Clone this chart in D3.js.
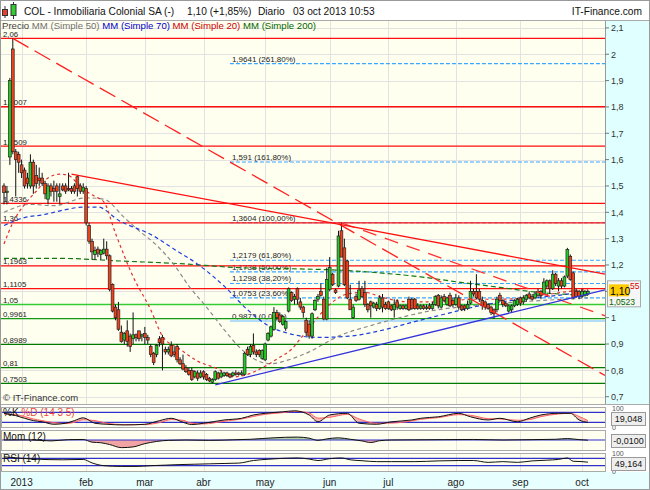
<!DOCTYPE html>
<html><head><meta charset="utf-8">
<script src="https://cdnjs.cloudflare.com/ajax/libs/d3/7.8.5/d3.min.js"></script>
<style>body{margin:0;background:#fff}svg{display:block;font-family:"Liberation Sans",Arial,sans-serif}</style>
</head><body><svg id="c" width="650" height="490"></svg>
<script>
// ---------------- DATA ----------------
const opens = [1.50,1.475,1.61,2.02,1.63,1.62,1.58,1.56,1.53,1.50,
1.59,1.54,1.53,1.53,1.51,1.45,1.50,1.49,1.50,1.46,
1.50,1.50,1.49,1.49,1.50,1.535,1.50,1.48,1.49,1.35,
1.29,1.24,1.26,1.24,1.245,1.26,1.235,1.126,1.04,1.03,
0.945,0.915,0.95,0.93,0.92,0.935,0.95,0.93,0.94,0.925,
0.89,0.865,0.86,0.92,0.925,0.88,0.87,0.895,0.87,0.89,
0.84,0.825,0.81,0.80,0.80,0.775,0.79,0.775,0.795,0.785,
0.77,0.755,0.765,0.79,0.775,0.78,0.79,0.785,0.78,0.79,
0.79,0.785,0.785,0.88,0.86,0.895,0.87,0.875,0.845,0.84,
0.915,0.93,0.955,1.02,1.01,0.975,0.96,1.025,1.095,1.07,
1.11,1.06,1.04,0.99,0.975,0.93,1.03,1.07,1.10,1.07,
0.995,1.107,1.165,1.105,1.12,1.33,1.265,1.215,1.07,1.00,
1.08,1.07,1.11,1.095,1.05,1.06,1.04,1.05,1.035,1.075,
1.05,1.06,1.045,1.03,1.06,1.035,1.045,1.035,1.07,1.07,
1.07,1.045,1.035,1.045,1.035,1.045,1.035,1.05,1.085,1.04,
1.08,1.05,1.085,1.065,1.05,1.075,1.045,1.045,1.035,1.055,
1.10,1.10,1.10,1.065,1.06,1.05,1.04,1.03,1.03,1.085,
1.065,1.055,1.025,1.03,1.045,1.05,1.075,1.06,1.07,1.09,
1.08,1.075,1.085,1.10,1.09,1.12,1.14,1.11,1.165,1.12,
1.14,1.12,1.158,1.233,1.17,1.10,1.10,1.08,1.085,1.09];
const highs = [1.51,1.50,1.91,2.06,1.64,1.63,1.60,1.57,1.55,1.62,
1.60,1.58,1.57,1.55,1.52,1.51,1.51,1.52,1.51,1.51,
1.51,1.51,1.55,1.50,1.51,1.54,1.51,1.51,1.50,1.36,
1.30,1.27,1.27,1.26,1.30,1.29,1.24,1.13,1.05,1.06,
0.97,0.945,0.99,0.94,1.02,0.94,0.95,0.94,0.965,0.935,
0.90,0.87,0.90,0.93,0.935,0.89,0.89,0.91,0.89,0.90,
0.85,0.86,0.82,0.81,0.81,0.80,0.80,0.80,0.80,0.79,
0.775,0.77,0.80,0.795,0.80,0.795,0.795,0.79,0.795,0.80,
0.795,0.80,0.87,0.89,0.90,0.94,0.88,0.88,0.88,0.905,
0.945,0.97,1.04,1.03,1.02,1.01,0.99,1.115,1.10,1.09,
1.115,1.075,1.045,1.00,0.99,1.02,1.07,1.09,1.13,1.08,
1.19,1.23,1.17,1.11,1.33,1.36,1.30,1.22,1.125,1.05,
1.09,1.14,1.12,1.14,1.055,1.065,1.06,1.06,1.085,1.09,
1.06,1.065,1.05,1.07,1.07,1.05,1.05,1.05,1.08,1.075,
1.075,1.055,1.05,1.05,1.05,1.055,1.06,1.085,1.09,1.085,
1.09,1.08,1.095,1.075,1.09,1.085,1.05,1.05,1.065,1.14,
1.11,1.165,1.11,1.08,1.065,1.055,1.045,1.035,1.08,1.095,
1.07,1.06,1.05,1.05,1.07,1.075,1.08,1.085,1.09,1.10,
1.09,1.10,1.11,1.105,1.15,1.145,1.145,1.18,1.17,1.15,
1.15,1.16,1.265,1.24,1.175,1.11,1.105,1.11,1.105,1.105];
const lows = [1.43,1.43,1.58,1.62,1.46,1.55,1.53,1.49,1.49,1.49,
1.47,1.49,1.50,1.50,1.45,1.43,1.46,1.44,1.44,1.43,
1.48,1.47,1.48,1.47,1.47,1.46,1.47,1.47,1.35,1.28,
1.22,1.22,1.23,1.22,1.24,1.22,1.10,1.02,0.99,0.95,
0.905,0.90,0.89,0.87,0.90,0.91,0.91,0.91,0.90,0.90,
0.85,0.82,0.85,0.89,0.80,0.86,0.86,0.85,0.85,0.83,
0.82,0.80,0.79,0.78,0.76,0.77,0.76,0.77,0.765,0.76,
0.755,0.75,0.76,0.765,0.77,0.775,0.775,0.77,0.775,0.78,
0.78,0.78,0.78,0.855,0.85,0.86,0.85,0.85,0.84,0.835,
0.91,0.925,0.95,0.99,0.98,0.97,0.95,1.02,1.06,1.05,
1.05,1.03,1.00,0.93,0.92,0.92,1.025,1.06,1.08,0.99,
0.99,1.10,1.12,1.09,1.115,1.23,1.12,1.07,1.03,0.995,
1.06,1.065,1.075,1.04,1.02,1.00,1.035,1.025,1.03,1.02,
1.03,1.03,1.025,1.00,1.03,1.03,1.03,1.03,1.025,1.03,
1.03,1.03,1.03,1.03,1.03,1.03,1.03,1.045,1.035,1.035,
1.06,1.045,1.04,1.04,1.045,1.03,1.025,1.025,1.03,1.05,
1.08,1.07,1.06,1.03,1.03,1.03,1.01,0.995,1.02,1.06,
1.04,1.04,1.02,1.02,1.04,1.045,1.045,1.05,1.06,1.07,
1.065,1.07,1.08,1.07,1.085,1.11,1.09,1.105,1.12,1.10,
1.11,1.115,1.15,1.14,1.07,1.075,1.07,1.075,1.08,1.085];
const closes = [1.475,1.48,1.90,1.63,1.60,1.59,1.55,1.50,1.51,1.59,
1.50,1.51,1.52,1.51,1.47,1.50,1.48,1.48,1.48,1.47,
1.485,1.48,1.485,1.48,1.48,1.49,1.48,1.495,1.36,1.29,
1.25,1.255,1.245,1.255,1.26,1.235,1.107,1.025,1.00,0.956,
0.91,0.94,0.91,0.89,0.935,0.925,0.92,0.935,0.925,0.915,
0.86,0.83,0.895,0.905,0.90,0.87,0.88,0.855,0.86,0.84,
0.825,0.805,0.795,0.785,0.765,0.795,0.77,0.79,0.775,0.765,
0.76,0.765,0.795,0.77,0.79,0.79,0.78,0.775,0.79,0.785,
0.785,0.79,0.865,0.86,0.89,0.87,0.86,0.86,0.875,0.90,
0.94,0.965,1.02,1.00,0.985,1.005,0.985,1.11,1.065,1.08,
1.07,1.04,1.02,0.945,0.93,1.015,1.065,1.08,1.085,0.995,
1.145,1.19,1.125,1.095,1.31,1.23,1.125,1.075,1.03,1.04,
1.065,1.105,1.08,1.05,1.03,1.045,1.055,1.035,1.075,1.04,
1.035,1.035,1.03,1.05,1.04,1.045,1.035,1.045,1.03,1.035,
1.035,1.035,1.045,1.035,1.04,1.035,1.05,1.08,1.045,1.075,
1.065,1.075,1.045,1.05,1.075,1.04,1.03,1.035,1.05,1.10,
1.09,1.075,1.07,1.045,1.04,1.035,1.02,1.015,1.07,1.065,
1.05,1.045,1.045,1.045,1.065,1.07,1.055,1.075,1.085,1.075,
1.07,1.09,1.10,1.085,1.135,1.14,1.11,1.165,1.13,1.14,
1.12,1.155,1.259,1.145,1.076,1.08,1.08,1.10,1.10,1.10];

// moving averages (bar index, value)
const ma20Idx = [0,3,7,11,15,19,22,25,28,31,34,38,44,50,54,60,66,73,78,83,88,94,98,101,105,111,117,123,129,138,149,159,169,179,190,199];
const ma20Val = [1.28,1.36,1.43,1.48,1.53,1.545,1.54,1.51,1.48,1.46,1.44,1.32,1.156,1.03,0.93,0.88,0.835,0.805,0.775,0.785,0.81,0.85,0.88,0.92,0.975,1.05,1.09,1.096,1.077,1.06,1.06,1.07,1.07,1.077,1.096,1.107];
const ma50Idx = [0,9,17,28,34,41,46,52,58,63,69,75,80,85,91,97,104,114,125,135,145,155,169,183,199];
const ma50Val = [1.40,1.43,1.425,1.455,1.45,1.38,1.33,1.275,1.20,1.12,1.04,0.955,0.89,0.845,0.825,0.84,0.87,0.93,0.97,1.00,1.025,1.04,1.055,1.065,1.075];
const ma70Idx = [0,7,13,21,27,32,39,51,58,67,75,83,90,97,107,118,126,140,150,162,176,189,199];
const ma70Val = [1.35,1.38,1.39,1.41,1.42,1.42,1.37,1.31,1.26,1.195,1.12,1.03,0.97,0.94,0.925,0.93,0.945,0.985,1.013,1.045,1.07,1.085,1.10];
const ma200Idx = [0,19,40,60,80,101,115,128,142,155,169,183,199];
const ma200Val = [1.225,1.225,1.215,1.205,1.19,1.185,1.18,1.17,1.155,1.135,1.115,1.095,1.085];

// horizontal levels and fibonacci
const levelValues = [2.06,1.8007,1.6509,1.4336,1.36,1.1963,1.1105,1.05,0.9961,0.8989,0.81,0.7503];
const levelLabels = ["2,06","1,8007","1,6509","1,4336","1,36","1,1963","1,1105","1,05","0,9961","0,8989","0,81","0,7503"];
const fibValues = [0.9873,1.0753,1.1298,1.1738,1.2179,1.3604,1.591,1.9641];
const fibLabels = ["0,9873 (0,00%)","1,0753 (23,60%)","1,1298 (38,20%)","1,1738 (50,00%)","1,2179 (61,80%)","1,3604 (100,00%)","1,591 (161,80%)","1,9641 (261,80%)"];
const fibStartIdx = 77;

// trend lines: [startIdx, startVal, throughIdx, throughVal]
const trendRedDash1 = [3,2.06,115,1.35];
const trendRedSolid = [23,1.545,115,1.353];
const trendBlue = [72,0.745,199,1.09];
const trendRedDash2 = [115,1.36,199,1.03];

// axis tick labels
const yTicks = [0.7,0.8,0.9,1,1.1,1.2,1.3,1.4,1.5,1.6,1.7,1.8,1.9,2,2.1];
const yTickLabels = ["0,7","0,8","0,9","1","1,1","1,2","1,3","1,4","1,5","1,6","1,7","1,8","1,9","2","2,1"];
const monthLabels = ["2013","feb","mar","abr","may","jun","jul","ago","sep","oct"];

// indicators (bar index, value)
const stochIdx = [0,4,7,10,13,17,21,24,27,31,35,41,48,53,57,61,64,68,75,81,85,89,95,99,104,107,111,117,121,127,132,139,142,148,155,159,165,169,175,179,183,189,193,196,199];
const stochK = [74,60,44,30,23,8,14,30,47,14,8,4,8,30,44,20,6,14,34,44,64,74,83,89,64,23,64,74,14,8,23,34,44,53,74,53,34,44,23,44,64,74,74,34,19];
const stochD = [70,66,55,40,30,18,12,20,35,30,14,6,6,18,36,32,14,10,26,40,55,68,78,86,76,45,50,68,40,14,15,28,38,48,66,62,42,40,32,36,54,70,74,55,30];
const momIdx = [0,8,16,22,27,30,33,36,40,44,48,52,56,62,70,78,84,88,92,96,100,104,107,110,114,118,122,125,128,132,140,150,160,170,180,188,192,196,199];
const momVal = [0,0.01,-0.05,0.02,0.03,-0.12,-0.15,-0.25,-0.42,-0.38,-0.2,-0.08,-0.02,0,-0.02,0.01,0.04,0.08,0.12,0.15,0.16,0.10,-0.02,0.06,0.12,0.04,-0.05,-0.14,-0.04,0,0.01,0.02,0.03,0.0,0.02,0.04,0.08,0.02,-0.01];
const rsiIdx = [0,10,20,27,30,34,40,45,50,55,60,65,70,75,80,85,90,95,100,104,107,111,115,118,122,127,132,140,148,155,160,165,170,175,180,185,189,192,194,197,199];
const rsiVal = [78,66,62,64,45,30,26,26,30,33,36,38,40,42,44,58,65,70,72,66,58,68,72,62,57,52,52,52,56,58,58,48,52,48,56,60,64,72,54,52,49];

// ---------------- DRAW ----------------
const svg = d3.select('#c');
const P = {l:1, r:605, t:21, b:404};
const n = closes.length;

const holidays = new Set(['2012-12-25','2012-12-26','2013-01-01','2013-03-29','2013-04-01','2013-05-01']);
const days = [];
for (let d = new Date(Date.UTC(2012,11,20)); days.length < n; d.setUTCDate(d.getUTCDate()+1)) {
  const dow = d.getUTCDay(), s = d.toISOString().slice(0,10);
  if (dow===0 || dow===6 || holidays.has(s)) continue;
  days.push(s);
}
const monthIdx = monthLabels.map((m,k) => days.findIndex(s => s.startsWith('2013-' + String(k+1).padStart(2,'0'))));

const x = d3.scalePoint().domain(d3.range(n)).range([4, 587.9]);
const y = d3.scaleLinear().domain([0.7, 2.1]).range([396.7, 27.9]);
const yLast = y(closes[n-1]);

// backgrounds
svg.append('rect').attr('x',0).attr('y',0).attr('width',650).attr('height',490).attr('fill','#fff');
svg.append('rect').attr('x',P.l).attr('y',P.t).attr('width',P.r-P.l).attr('height',P.b-P.t).attr('fill','#fffff0');
svg.append('rect').attr('x',P.r).attr('y',P.t).attr('width',649-P.r).attr('height',P.b-P.t).attr('fill','#e0ffff');
svg.append('rect').attr('x',1).attr('y',472).attr('width',648).attr('height',17).attr('fill','#e8ffff');

svg.append('defs').append('clipPath').attr('id','cp').append('rect')
  .attr('x',P.l).attr('y',P.t).attr('width',P.r-P.l).attr('height',P.b-P.t);
const g = svg.append('g').attr('clip-path','url(#cp)');

// grid
g.selectAll('.hg').data(yTicks).join('line')
  .attr('x1',P.l).attr('x2',P.r).attr('y1',d=>Math.round(y(d))+0.5).attr('y2',d=>Math.round(y(d))+0.5)
  .attr('stroke','#e2e2e2');
g.selectAll('.vg').data(monthIdx).join('line')
  .attr('x1',d=>Math.round(x(d))+0.5).attr('x2',d=>Math.round(x(d))+0.5).attr('y1',P.t).attr('y2',P.b)
  .attr('stroke','#e2e2e2');

// fibonacci
const fx0 = x(fibStartIdx);
g.selectAll('.fib').data(fibValues).join('line')
  .attr('x1',fx0).attr('x2',P.r).attr('y1',d=>y(d)).attr('y2',d=>y(d))
  .attr('stroke',(d,i)=> i===0 ? '#66bbff' : '#3aa6ff').attr('stroke-width',1.2)
  .attr('stroke-dasharray',(d,i)=> i===0 ? null : '4,2');
g.selectAll('.fibt').data(fibValues).join('text')
  .attr('x',fx0+2).attr('y',d=>y(d)-2).attr('font-size',8).attr('fill','#222')
  .text((d,i)=>fibLabels[i]);

// levels
const levelColor = v => v >= 1.1 ? '#ff0f0f' : (v === 1.05 ? '#33cc33' : (v > 0.99 ? '#139a13' : '#007a00'));
g.selectAll('.lv').data(levelValues).join('line')
  .attr('x1',P.l).attr('x2',P.r).attr('y1',d=>y(d)).attr('y2',d=>y(d))
  .attr('stroke',d=>levelColor(d)).attr('stroke-width',1.3);
g.selectAll('.lvt').data(levelValues).join('text')
  .attr('x',3).attr('y',d=>y(d)-1.5).attr('font-size',7.8).attr('fill','#222')
  .text((d,i)=>levelLabels[i]);

// moving averages
const maLine = d3.line().x(d=>x(d[0])).y(d=>y(d[1])).curve(d3.curveMonotoneX);
function drawMA(idx, vals, color, dash) {
  g.append('path').attr('d', maLine(idx.map((k,i)=>[k, vals[i]])))
    .attr('fill','none').attr('stroke',color).attr('stroke-width',1.2).attr('stroke-dasharray',dash);
}
drawMA(ma200Idx, ma200Val, '#137a13', '5,3');
drawMA(ma50Idx, ma50Val, '#8a8a8a', '4,3');
drawMA(ma70Idx, ma70Val, '#2040dd', '4,3');
drawMA(ma20Idx, ma20Val, '#e23030', '3,3');

// candles
const cg = g.append('g');
d3.range(n).forEach(i => {
  const cx = x(i);
  cg.append('line').attr('x1',cx).attr('x2',cx).attr('y1',y(highs[i])).attr('y2',y(lows[i]))
    .attr('stroke','#111').attr('stroke-width',1);
  const up = closes[i] >= opens[i];
  const top = y(Math.max(opens[i], closes[i])), bot = y(Math.min(opens[i], closes[i]));
  cg.append('rect').attr('x',cx-1.4).attr('width',2.8).attr('y',top).attr('height',Math.max(1,bot-top))
    .attr('fill', up ? '#22cc22' : '#f2421b').attr('stroke','#222').attr('stroke-width',0.7);
});

// trend lines
function trend(t, color, dash, w) {
  const x1 = x(t[0]), y1 = y(t[1]), x2 = x(t[2]), y2 = y(t[3]);
  const s = (y2-y1)/(x2-x1);
  g.append('line').attr('x1',x1).attr('y1',y1).attr('x2',P.r).attr('y2',y1 + s*(P.r-x1))
    .attr('stroke',color).attr('stroke-width',w).attr('stroke-dasharray',dash);
}
trend(trendRedDash1, '#ff2020', '18,7', 1.3);
trend(trendRedDash2, '#ff3030', '14,9', 1.3);
trend(trendRedSolid, '#ff1010', null, 1.3);
trend(trendBlue, '#3333dd', null, 1.3);

// legend & copyright
const lg = svg.append('text').attr('x',2).attr('y',28.5).attr('font-size',9.6);
[['Precio ','#444'],['MM (Simple 50) ','#707070'],['MM (Simple 70) ','#0000cc'],['MM (Simple 20) ','#cc0000'],['MM (Simple 200)','#006600']]
  .forEach(t => lg.append('tspan').attr('fill',t[1]).text(t[0]));
svg.append('text').attr('x',3).attr('y',401).attr('font-size',9.5).attr('fill','#333').text('\u00a9 IT-Finance.com');

// frame lines
svg.append('line').attr('x1',0).attr('x2',650).attr('y1',20.5).attr('y2',20.5).attr('stroke','#aaa');
svg.append('line').attr('x1',P.r+0.5).attr('x2',P.r+0.5).attr('y1',P.t).attr('y2',P.b).attr('stroke','#999');
svg.append('line').attr('x1',0).attr('x2',650).attr('y1',P.b+0.5).attr('y2',P.b+0.5).attr('stroke','#aaa');

// right axis (the tick label hidden by the price marker is not drawn)
const ra = svg.append('g');
ra.selectAll('line').data(yTicks).join('line')
  .attr('x1',P.r).attr('x2',P.r+4).attr('y1',d=>y(d)).attr('y2',d=>y(d)).attr('stroke','#777');
const visTicks = yTicks.map((d,i)=>[d,i]).filter(p => Math.abs(y(p[0]) - yLast) > 13);
ra.selectAll('text').data(visTicks).join('text')
  .attr('x',P.r+6).attr('y',d=>y(d[0])+3.3).attr('font-size',9).attr('fill','#333')
  .text(d=>yTickLabels[d[1]]);

// price marker (last value, with the two stacked values partly hidden behind it)
svg.append('rect').attr('x',607.5).attr('y',yLast-10.5).attr('width',33).attr('height',26).attr('fill','#f6f6f6').attr('stroke','#aaa');
svg.append('text').attr('x',630).attr('y',yLast-2).attr('font-size',8.5).attr('fill','#dd0000').text('55');
svg.append('text').attr('x',609).attr('y',yLast+13.5).attr('font-size',8.5).attr('fill','#006600').text('1,0523');
svg.append('rect').attr('x',609).attr('y',yLast-7).attr('width',20).attr('height',12).attr('fill','#ffcc00');
svg.append('text').attr('x',610).attr('y',yLast+3.5).attr('font-size',10.5).attr('fill','#000').text('1,10');

// title bar
const ic = svg.append('g');
ic.append('line').attr('x1',5).attr('x2',5).attr('y1',6).attr('y2',18).attr('stroke','#333');
ic.append('rect').attr('x',2.5).attr('y',9.5).attr('width',5).attr('height',6).attr('fill','#e84030').attr('stroke','#333');
ic.append('line').attr('x1',13.5).attr('x2',13.5).attr('y1',2).attr('y2',19).attr('stroke','#333');
ic.append('rect').attr('x',11).attr('y',4.5).attr('width',5).attr('height',11).attr('fill','#33cc33').attr('stroke','#333');
const tf = 10.2;
svg.append('text').attr('x',24).attr('y',14.5).attr('font-size',tf).attr('fill','#111').text('COL - Inmobiliaria Colonial SA (-)');
svg.append('text').attr('x',187).attr('y',14.5).attr('font-size',tf).attr('fill','#111').text('1,10 (+1,85%)');
svg.append('text').attr('x',258).attr('y',14.5).attr('font-size',tf).attr('fill','#111').text('Diario');
svg.append('text').attr('x',293).attr('y',14.5).attr('font-size',tf).attr('fill','#111').text('03 oct 2013 10:53');
svg.append('text').attr('x',642).attr('y',14.5).attr('font-size',tf).attr('fill','#111').attr('text-anchor','end').text('IT-Finance.com');

// ---------------- INDICATORS ----------------
function panel(top, h) {
  svg.append('rect').attr('x',1.5).attr('y',top+0.5).attr('width',P.r-1).attr('height',h).attr('fill','#fffff0').attr('stroke','#aaa');
  svg.append('g').selectAll('line').data(monthIdx).join('line')
    .attr('x1',d=>Math.round(x(d))+0.5).attr('x2',d=>Math.round(x(d))+0.5).attr('y1',top+1).attr('y2',top+h)
    .attr('stroke','#e6e6e6');
}
function valueBox(cy, txt) {
  svg.append('rect').attr('x',611.5).attr('y',cy-6.5).attr('width',34).attr('height',13).attr('fill','#eeeeee').attr('stroke','#999');
  svg.append('text').attr('x',628.5).attr('y',cy+3.2).attr('font-size',9).attr('text-anchor','middle').attr('fill','#111').text(txt);
}
const blue = '#3030cc';

// Stochastic
panel(407, 20);
const ys = d3.scaleLinear().domain([0,100]).range([425.6, 409]);
const stPts = stochIdx.map((k,i)=>({k, K:stochK[i], D:stochD[i]}));
svg.append('path').attr('d', d3.area().x(d=>x(d.k)).y0(d=>ys(d.D)).y1(d=>ys(d.K)).curve(d3.curveMonotoneX)(stPts))
  .attr('fill','#f4a8a8').attr('opacity',0.85);
[80,20].forEach(v => svg.append('line').attr('x1',2).attr('x2',P.r).attr('y1',ys(v)).attr('y2',ys(v)).attr('stroke',blue).attr('stroke-width',1.2));
svg.append('path').attr('d', d3.line().x(d=>x(d.k)).y(d=>ys(d.D)).curve(d3.curveMonotoneX)(stPts)).attr('fill','none').attr('stroke','#ff6060').attr('stroke-width',1);
svg.append('path').attr('d', d3.line().x(d=>x(d.k)).y(d=>ys(d.K)).curve(d3.curveMonotoneX)(stPts)).attr('fill','none').attr('stroke','#111').attr('stroke-width',1);
const sl = svg.append('text').attr('x',3).attr('y',416).attr('font-size',10);
sl.append('tspan').attr('fill','#111').text('%K ');
sl.append('tspan').attr('fill','#ee4444').text('%D (14 3 5)');
svg.append('text').attr('x',612).attr('y',411).attr('font-size',7).attr('fill','#555').text('100');
svg.append('text').attr('x',612).attr('y',430).attr('font-size',7).attr('fill','#555').text('0');
valueBox(419, '19,048');

// Momentum
panel(430, 20);
const ym = d3.scaleLinear().domain([-0.55,0.44]).range([450, 432]);
const mPts = momIdx.map((k,i)=>[k, momVal[i]]);
const mArea = d3.area().x(d=>x(d[0])).y0(ym(0)).y1(d=>ym(d[1])).curve(d3.curveMonotoneX)(mPts);
const dm = svg.append('defs');
dm.append('clipPath').attr('id','mpos').append('rect').attr('x',0).attr('y',430).attr('width',P.r).attr('height',ym(0)-430);
dm.append('clipPath').attr('id','mneg').append('rect').attr('x',0).attr('y',ym(0)).attr('width',P.r).attr('height',450-ym(0));
svg.append('path').attr('d',mArea).attr('fill','#b4cfa4').attr('clip-path','url(#mpos)');
svg.append('path').attr('d',mArea).attr('fill','#f0a4a4').attr('clip-path','url(#mneg)');
svg.append('line').attr('x1',2).attr('x2',P.r).attr('y1',ym(0)).attr('y2',ym(0)).attr('stroke',blue).attr('stroke-width',1.2);
svg.append('path').attr('d', d3.line().x(d=>x(d[0])).y(d=>ym(d[1])).curve(d3.curveMonotoneX)(mPts)).attr('fill','none').attr('stroke','#111').attr('stroke-width',1);
svg.append('text').attr('x',3).attr('y',440).attr('font-size',10).attr('fill','#111').text('Mom (12)');
valueBox(441, '-0,0100');

// RSI
panel(453, 18);
const yr = d3.scaleLinear().domain([0,100]).range([471.2, 452.8]);
[70,30].forEach(v => svg.append('line').attr('x1',2).attr('x2',P.r).attr('y1',yr(v)).attr('y2',yr(v)).attr('stroke',blue).attr('stroke-width',1.2));
svg.append('path').attr('d', d3.line().x((d,i)=>x(d)).y((d,i)=>yr(rsiVal[i])).curve(d3.curveMonotoneX)(rsiIdx)).attr('fill','none').attr('stroke','#111').attr('stroke-width',1);
svg.append('text').attr('x',3).attr('y',462).attr('font-size',10).attr('fill','#111').text('RSI (14)');
svg.append('text').attr('x',612).attr('y',456).attr('font-size',7).attr('fill','#555').text('100');
svg.append('text').attr('x',612).attr('y',474).attr('font-size',7).attr('fill','#555').text('0');
valueBox(464, '49,164');

// x axis labels
svg.append('g').selectAll('text').data(monthIdx).join('text')
  .attr('x',d=>x(d)).attr('y',486).attr('text-anchor','middle').attr('font-size',10).attr('fill','#222')
  .text((d,i)=>monthLabels[i]);

// outer frame
svg.append('rect').attr('x',0.5).attr('y',0.5).attr('width',649).attr('height',489).attr('fill','none').attr('stroke','#999');
</script>
</body></html>
